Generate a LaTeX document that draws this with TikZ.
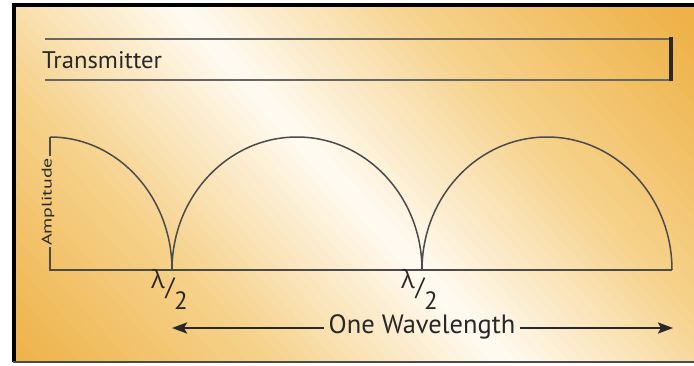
\documentclass[tikz,border=0pt]{standalone}
\usepackage{fontspec}
\setmainfont{PT Sans}
\newfontfamily\grkfont{Open Sans}
\usetikzlibrary{arrows.meta}
\definecolor{bgO}{RGB}{238,178,72}
\definecolor{bgM}{RGB}{246,210,140}
\definecolor{bgW}{RGB}{255,251,242}
\definecolor{ink}{RGB}{75,75,75}
\definecolor{txt}{RGB}{40,40,40}
\tikzset{
  wave/.style={draw=ink, line width=1.5pt},
  bar/.style={draw=ink!85, line width=2pt},
  lbl/.style={text=txt, inner sep=0pt},
  halfl/.style={text=txt, inner sep=0pt, font=\fontsize{25}{25}\selectfont},
  arr/.style={draw=txt, line width=2.5pt, -{Stealth[length=15pt,width=11pt,inset=3pt]}},
}
\begin{document}
\begin{tikzpicture}[x=1pt,y=1pt]
\useasboundingbox (0,0) rectangle (694,365);
\fill[white] (0,0) rectangle (694,365);
% background gradient (stripes)
\begin{scope}
  \clip (14,3) rectangle (694,360);
  \begin{scope}[shift={(340,183)}, rotate=42.5]
    \foreach \i in {-40,...,39} {
      \pgfmathsetmacro{\s}{abs(\i+0.5)/40}
      \pgfmathsetmacro{\pa}{min(100,\s/0.45*100)}
      \pgfmathsetmacro{\pb}{max(0,min(100,(\s-0.45)/0.5*100))}
      \ifdim \s pt<0.45pt
        \fill[bgM!\pa!bgW] (\i*9.5,-600) rectangle (\i*9.5+10.2,600);
      \else
        \fill[bgO!\pb!bgM] (\i*9.5,-600) rectangle (\i*9.5+10.2,600);
      \fi
    }
  \end{scope}
\end{scope}
% frame
\draw[black, line width=3.5pt] (14,3) -- (14,360) -- (694,360);
\draw[ink, line width=2pt] (13,3) -- (694,3);
% transmitter bar
\coordinate (tl) at (45,326);
\coordinate (tr) at (671,326);
\coordinate (bl) at (45,285);
\coordinate (br) at (671,285);
\draw[bar] (tl) -- (tr);
\draw[bar] (bl) -- (br);
\draw[txt, line width=4pt] ([yshift=1.5pt]tr) -- ([yshift=-1.5pt]br);
\node[lbl, anchor=west, font=\fontsize{24}{24}\selectfont, xscale=1.03] (trans) at (42,305) {Transmitter};
% wave
\coordinate (o) at (50,95);
\coordinate (top) at (50,228);
\coordinate (c1) at (172,95);
\coordinate (c2) at (422,95);
\coordinate (c3) at (672,95);
\node[lbl, rotate=90, font=\fontsize{14}{14}\selectfont, xscale=1.42] (amp) at (48,163) {Amplitude};
\draw[wave] (top) -- (50,209);
\draw[wave] (50,118) -- (o) -- (c3);
\draw[wave] (top) arc[start angle=90, end angle=0, x radius=122, y radius=133];
\draw[wave] (c1) arc[start angle=180, end angle=0, x radius=125, y radius=133];
\draw[wave] (c2) arc[start angle=180, end angle=0, x radius=125, y radius=133];
% half-wavelength labels
\node[halfl] (lam1) at (158,86) {\grkfont λ};
\node[halfl] (sl1) at (170,77) {/};
\node[halfl] (two1) at (181,64) {2};
\node[halfl] (lam2) at (408,86) {\grkfont λ};
\node[halfl] (sl2) at (420,77) {/};
\node[halfl] (two2) at (431,64) {2};
% one wavelength arrow
\node[lbl, inner xsep=5pt, font=\fontsize{26.5}{26.5}\selectfont] (ow) at (422,38) {One Wavelength};
\coordinate (la) at (172,37);
\coordinate (ra) at (673,37);
\draw[arr] (ow.west |- la) -- (la);
\draw[arr] (ow.east |- ra) -- (ra);
\end{tikzpicture}
\end{document}
